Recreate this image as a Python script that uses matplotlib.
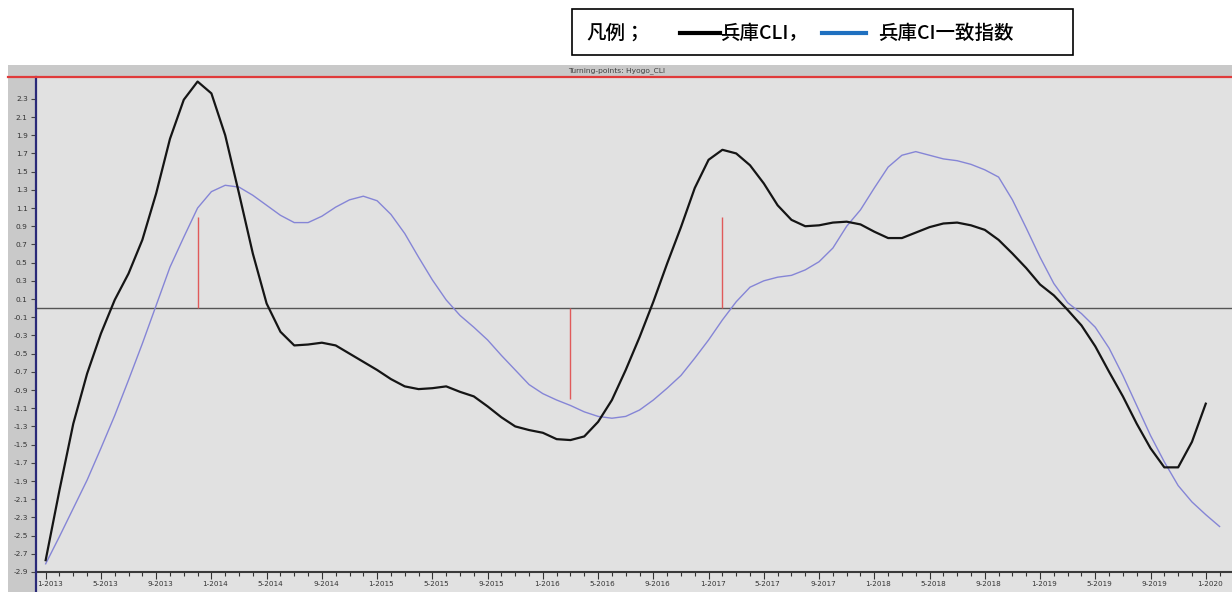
import numpy as np
import matplotlib.pyplot as plt
from matplotlib.lines import Line2D
from matplotlib.patches import Rectangle
from matplotlib.transforms import ScaledTranslation

plt.rcParams['font.family'] = ['Noto Sans CJK JP', 'DejaVu Sans']

# 月番号 (0 = 2013年1月)
months_cli = list(range(0, 85))
hyogo_cli = [-2.77, -2.00, -1.27, -0.72, -0.28, 0.09, 0.38, 0.75, 1.26, 1.86,
             2.29, 2.49, 2.36, 1.90, 1.26, 0.60, 0.05, -0.26, -0.41, -0.40,
             -0.38, -0.41, -0.50, -0.59, -0.68, -0.78, -0.86, -0.89, -0.88, -0.86,
             -0.92, -0.97, -1.08, -1.20, -1.30, -1.34, -1.37, -1.44, -1.45, -1.41,
             -1.25, -1.01, -0.68, -0.32, 0.07, 0.49, 0.89, 1.32, 1.63, 1.74,
             1.70, 1.57, 1.37, 1.13, 0.97, 0.90, 0.91, 0.94, 0.95, 0.92,
             0.84, 0.77, 0.77, 0.83, 0.89, 0.93, 0.94, 0.91, 0.86, 0.75,
             0.60, 0.44, 0.26, 0.14, -0.02, -0.19, -0.42, -0.70, -0.97, -1.27,
             -1.54, -1.75, -1.75, -1.47, -1.05]

months_ci = list(range(0, 86))
hyogo_ci = [-2.81, -2.51, -2.20, -1.89, -1.54, -1.18, -0.79, -0.39, 0.03, 0.45,
            0.78, 1.10, 1.28, 1.35, 1.33, 1.24, 1.13, 1.02, 0.94, 0.94,
            1.01, 1.11, 1.19, 1.23, 1.18, 1.03, 0.82, 0.56, 0.31, 0.09,
            -0.08, -0.21, -0.35, -0.52, -0.68, -0.84, -0.94, -1.01, -1.07, -1.14,
            -1.19, -1.21, -1.19, -1.12, -1.01, -0.88, -0.74, -0.55, -0.35, -0.13,
            0.07, 0.23, 0.30, 0.34, 0.36, 0.42, 0.51, 0.66, 0.90, 1.08,
            1.32, 1.55, 1.68, 1.72, 1.68, 1.64, 1.62, 1.58, 1.52, 1.44,
            1.19, 0.88, 0.56, 0.27, 0.06, -0.06, -0.21, -0.44, -0.74, -1.07,
            -1.40, -1.69, -1.95, -2.13, -2.27, -2.40]

# 転換点 (赤線)
tp_months = [11, 38, 49]
tp_lo = [0.0, -1.0, 0.0]
tp_hi = [1.0, 0.0, 1.0]

xtick_pos = list(range(0, 85, 4))
xtick_labels = ['%d-%d' % (1 + (m % 12), 2013 + m // 12) for m in xtick_pos]
ytick_pos = [round(-2.9 + 0.2 * i, 1) for i in range(27)]

W, H = 1232, 592


def fx(px):
    return px / W


def fy(py):
    return 1 - py / H


fig = plt.figure(figsize=(W / 100, H / 100), dpi=100)
fig.patch.set_facecolor('white')

# 外枠の灰色部分
fig.patches.append(Rectangle((fx(8), 0), fx(W - 8), (H - 65) / H,
                             transform=fig.transFigure, facecolor='#c9c9c9',
                             edgecolor='none', zorder=-5))
fig.patches.append(Rectangle((fx(36), 0), fx(W - 36), (H - 572) / H,
                             transform=fig.transFigure, facecolor='#e1e1e1',
                             edgecolor='none', zorder=-4))

ax = fig.add_axes([fx(36), fy(572), fx(W - 36), (572 - 77) / H])
ax.set_zorder(1)
ax.set_facecolor('#e1e1e1')

ax.plot(months_ci, hyogo_ci, color='#8585d6', linewidth=1.0, zorder=3)
ax.plot(months_cli, hyogo_cli, color='#151515', linewidth=1.6, zorder=4)
ax.axhline(0, color='#555555', linewidth=1.0, zorder=2)
ax.vlines(tp_months, tp_lo, tp_hi, color='#e05a5a', linewidth=1.0, zorder=2)

ax.set_xlim(-0.7, 85.9)
ax.set_ylim(-2.9, 2.54)

ax.set_xticks(xtick_pos)
ax.set_xticklabels(xtick_labels, fontsize=5.2, color='#333333', family='DejaVu Sans')
ax.set_xticks(range(0, 86), minor=True)
ax.tick_params(axis='x', which='major', direction='out', length=5, width=0.8,
               color='#333333', pad=1.5)
ax.tick_params(axis='x', which='minor', direction='out', length=3, width=0.8,
               color='#333333')
shift = ScaledTranslation(4 / 100, 0, fig.dpi_scale_trans)
for lab in ax.get_xticklabels():
    lab.set_transform(lab.get_transform() + shift)

ax.set_yticks(ytick_pos)
ax.set_yticklabels(['%.1f' % v for v in ytick_pos], fontsize=5.3, color='#333333',
                   family='DejaVu Sans')
ax.tick_params(axis='y', direction='out', length=3.5, width=0.8, color='#444444', pad=2.5)

for s in ['top', 'right', 'left']:
    ax.spines[s].set_visible(False)
ax.spines['bottom'].set_color('#3a3a3a')
ax.spines['bottom'].set_linewidth(1.5)

# 左の縦線 (紺) と上の赤線
fig.lines.append(Line2D([fx(36), fx(36)], [fy(77), 0], transform=fig.transFigure,
                        color='#2a2a78', linewidth=1.6, zorder=5))
fig.lines.append(Line2D([fx(8), 1], [fy(77), fy(77)], transform=fig.transFigure,
                        color='#e03a3a', linewidth=1.6, zorder=5))

fig.text(fx(617), fy(70.5), 'Turning-points: Hyogo_CLI', fontsize=5.4,
         color='#404040', ha='center', va='center', family='DejaVu Sans')

# 凡例
fig.patches.append(Rectangle((fx(572), fy(55)), fx(501), 46 / H,
                             transform=fig.transFigure, facecolor='white',
                             edgecolor='black', linewidth=1.2, zorder=1))
fig.text(fx(586), fy(33), '凡例；', fontsize=14, ha='left', va='center', weight='medium')
fig.lines.append(Line2D([fx(680), fx(720)], [fy(33), fy(33)], transform=fig.transFigure,
                        color='black', linewidth=3))
fig.text(fx(720), fy(33), '兵庫CLI，', fontsize=14, ha='left', va='center', weight='medium')
fig.lines.append(Line2D([fx(822), fx(866)], [fy(33), fy(33)], transform=fig.transFigure,
                        color='#1f70c0', linewidth=3))
fig.text(fx(878), fy(33), '兵庫CI一致指数', fontsize=14, ha='left', va='center', weight='medium')

fig.savefig('out.png', dpi=100)
